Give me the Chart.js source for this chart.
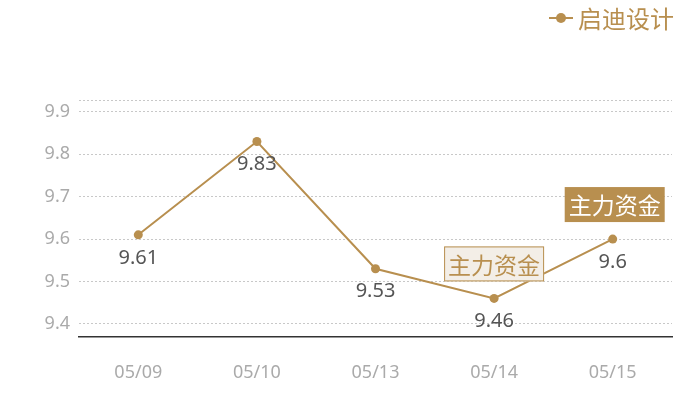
<!DOCTYPE html>
<html>
<head>
<meta charset="utf-8">
<script src="https://cdn.jsdelivr.net/npm/chart.js@4"></script>
<style>
html,body{margin:0;padding:0;background:#fff;}
#wrap{width:700px;height:400px;position:relative;}
</style>
</head>
<body>
<div id="wrap"><canvas id="c"></canvas></div>
<script>
const categories = ['05/09', '05/10', '05/13', '05/14', '05/15'];
const seriesName = '启迪设计';
const values = [9.61, 9.83, 9.53, 9.46, 9.6];
const yTicks = [9.4, 9.5, 9.6, 9.7, 9.8, 9.9];
const yMin = 9.369;
const yMax = 9.928;
const markers = [
  { index: 3, text: '主力资金', style: 'light' },
  { index: 4, text: '主力资金', style: 'dark' }
];

const GOLD = '#b88f4f';
const FONT = '"Noto Sans", "Noto Sans CJK SC", sans-serif';

const overlay = {
  id: 'overlay',
  afterDatasetsDraw(chart) {
    const ctx = chart.ctx;
    const meta = chart.getDatasetMeta(0);
    ctx.save();
    // value labels
    ctx.font = '20px ' + FONT;
    ctx.fillStyle = '#555';
    ctx.textAlign = 'center';
    ctx.textBaseline = 'middle';
    meta.data.forEach((pt, i) => {
      ctx.fillText(String(values[i]), pt.x, pt.y + 23);
    });
    // markers
    ctx.font = '23px "Noto Sans CJK SC", sans-serif';
    markers.forEach(m => {
      const pt = meta.data[m.index];
      const w = ctx.measureText(m.text).width + 8;
      const h = 35;
      let cx, top;
      if (m.style === 'light') {
        cx = pt.x;
        top = pt.y - 52;
        ctx.fillStyle = '#f3eee7';
        ctx.fillRect(cx - w / 2, top, w, h);
        ctx.strokeStyle = GOLD;
        ctx.lineWidth = 1;
        ctx.strokeRect(cx - w / 2 + 0.5, top + 0.5, w - 1, h - 1);
        ctx.fillStyle = GOLD;
      } else {
        cx = pt.x + 2;
        top = pt.y - 52;
        ctx.fillStyle = GOLD;
        ctx.fillRect(cx - w / 2, top, w, h);
        ctx.fillStyle = '#fff';
      }
      ctx.fillText(m.text, cx, top + h / 2 + 1);
    });
    // legend
    const lx = 549, ly = 18;
    ctx.strokeStyle = GOLD;
    ctx.lineWidth = 2;
    ctx.beginPath();
    ctx.moveTo(lx, ly);
    ctx.lineTo(lx + 24, ly);
    ctx.stroke();
    ctx.fillStyle = GOLD;
    ctx.beginPath();
    ctx.arc(lx + 12, ly, 5, 0, Math.PI * 2);
    ctx.fill();
    ctx.font = '24px "Noto Sans CJK SC", sans-serif';
    ctx.textAlign = 'left';
    ctx.fillText(seriesName, lx + 29, ly + 1);
    ctx.restore();
  }
};

new Chart(document.getElementById('c'), {
  type: 'line',
  data: {
    labels: categories,
    datasets: [{
      label: seriesName,
      data: values,
      borderColor: GOLD,
      backgroundColor: GOLD,
      borderWidth: 2,
      pointRadius: 4.5,
      pointHoverRadius: 4.5,
      pointBackgroundColor: GOLD,
      pointBorderWidth: 0,
      tension: 0
    }]
  },
  options: {
    responsive: true,
    maintainAspectRatio: false,
    animation: false,
    events: [],
    layout: { padding: { top: 100, right: 28, bottom: 0, left: 0 } },
    plugins: { legend: { display: false }, tooltip: { enabled: false } },
    scales: {
      x: {
        offset: true,
        grid: { display: false, drawTicks: false },
        border: { display: true, color: '#333', width: 1.5 },
        ticks: { color: '#aaa', font: { size: 18, family: FONT }, padding: 25 },
        afterFit(s) { s.height = 63; }
      },
      y: {
        min: yMin,
        max: yMax,
        afterBuildTicks(s) { s.ticks = yTicks.concat([yMax]).map(v => ({ value: v })); },
        grid: { color: '#c8c8c8', lineWidth: 1, drawTicks: false },
        border: { display: false, dash: [2, 2] },
        ticks: {
          color: '#aaa',
          font: { size: 18, family: FONT },
          padding: 9,
          callback(v) { return v === yMax ? '' : v.toFixed(1); }
        },
        afterFit(s) { s.width = 79; }
      }
    }
  },
  plugins: [overlay]
});
</script>
</body>
</html>
